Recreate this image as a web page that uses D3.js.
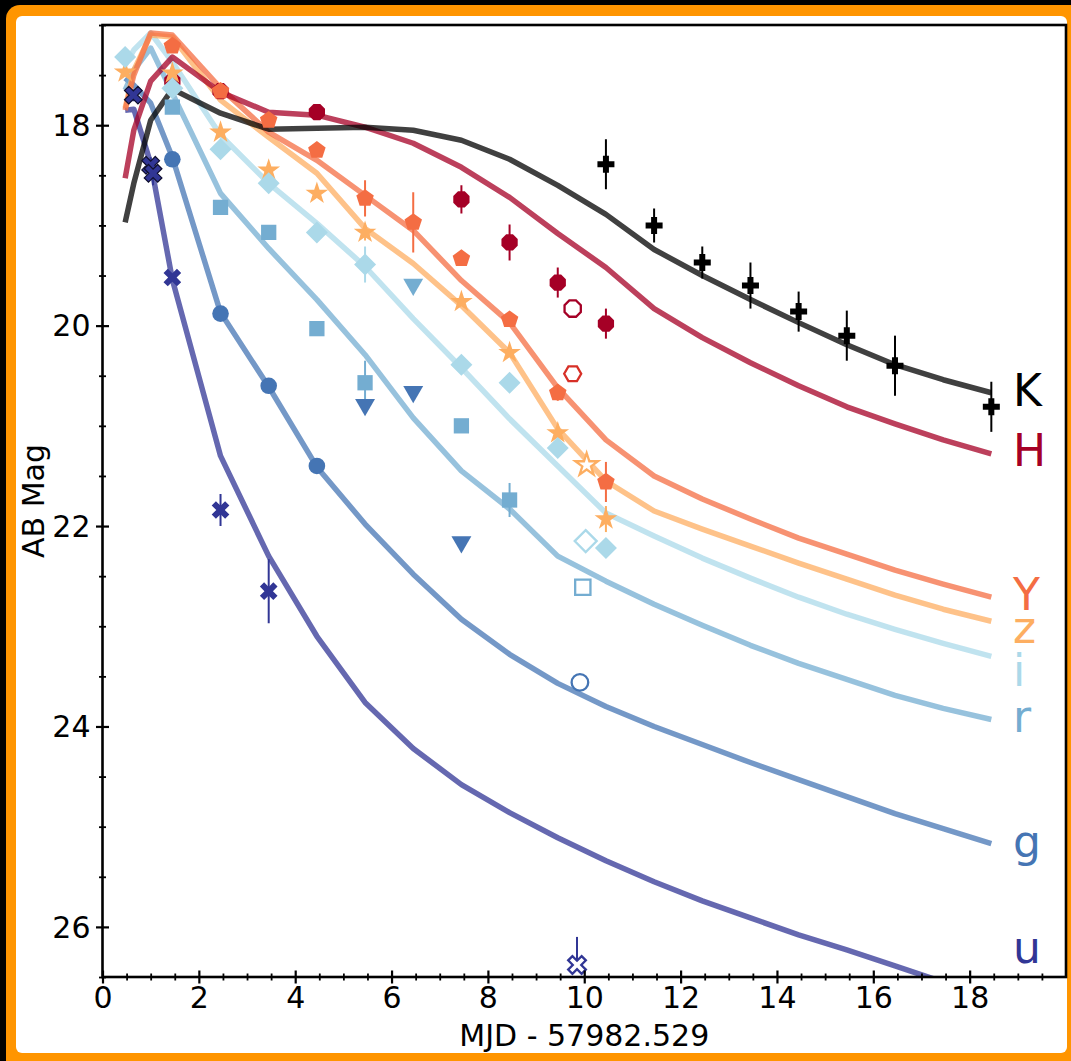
<!DOCTYPE html>
<html><head><meta charset="utf-8">
<script src="https://cdn.jsdelivr.net/npm/d3@7"></script>
<style>
html,body{margin:0;padding:0;background:#000;}
svg{display:block;font-family:"DejaVu Sans",sans-serif;}
</style></head><body>
<svg id="chart" width="1071" height="1061"></svg>
<script>
// ---------- model light curves (shared time grid) ----------
const modelTimes = [0.47, 0.65, 1.0, 1.45, 2.45, 3.45, 4.45, 5.45, 6.45, 7.45, 8.45, 9.45, 10.45, 11.45, 12.45, 13.45, 14.45, 15.45, 16.45, 17.45, 18.45];
const modelK = [18.97, 18.58, 17.95, 17.64, 17.88, 18.04, 18.03, 18.02, 18.05, 18.15, 18.34, 18.6, 18.89, 19.24, 19.5, 19.74, 19.97, 20.19, 20.39, 20.54, 20.67];
const modelH = [18.53, 18.05, 17.56, 17.32, 17.67, 17.87, 17.9, 18.02, 18.18, 18.42, 18.72, 19.08, 19.42, 19.83, 20.12, 20.37, 20.6, 20.81, 20.98, 21.14, 21.28];
const modelY = [17.85, 17.5, 17.08, 17.1, 17.63, 18.07, 18.35, 18.7, 19.05, 19.55, 19.97, 20.62, 21.14, 21.5, 21.73, 21.93, 22.12, 22.28, 22.44, 22.58, 22.71];
const modelZ = [17.83, 17.45, 17.1, 17.12, 17.75, 18.12, 18.48, 19.03, 19.38, 19.8, 20.27, 21.03, 21.55, 21.85, 22.03, 22.2, 22.37, 22.53, 22.69, 22.83, 22.95];
const modelI = [17.4, 17.25, 17.08, 17.37, 18.1, 18.58, 18.98, 19.41, 19.93, 20.42, 20.93, 21.4, 21.87, 22.1, 22.32, 22.52, 22.71, 22.88, 23.03, 23.17, 23.3];
const modelR = [17.65, 17.45, 17.23, 17.68, 18.68, 19.23, 19.74, 20.29, 20.92, 21.45, 21.83, 22.3, 22.55, 22.78, 22.99, 23.19, 23.37, 23.53, 23.69, 23.82, 23.93];
const modelG = [17.53, 17.6, 17.78, 18.32, 19.87, 20.61, 21.41, 21.98, 22.48, 22.93, 23.28, 23.57, 23.8, 24.0, 24.18, 24.36, 24.53, 24.7, 24.87, 25.02, 25.17];
const modelU = [17.85, 17.84, 18.38, 19.54, 21.3, 22.3, 23.1, 23.76, 24.22, 24.58, 24.86, 25.11, 25.34, 25.55, 25.74, 25.91, 26.08, 26.23, 26.39, 26.55, 26.7];

// ---------- observed photometry ----------
const kT = [10.45, 11.45, 12.45, 13.45, 14.45, 15.45, 16.45, 18.45];
const kM = [18.39, 19.0, 19.37, 19.6, 19.86, 20.1, 20.4, 20.81];
const kE = [0.25, 0.17, 0.16, 0.23, 0.2, 0.25, 0.3, 0.25];

const hT = [1.45, 2.45, 4.45, 7.45, 8.45, 9.45, 10.45];
const hM = [17.56, 17.66, 17.87, 18.74, 19.17, 19.57, 19.98];
const hE = [0, 0, 0.07, 0.14, 0.18, 0.15, 0.15];
const hOpenT = [9.76];
const hOpenM = [19.83];
const jOpenT = [9.76];
const jOpenM = [20.48];

const yT = [1.45, 2.45, 3.45, 4.45, 5.45, 6.45, 7.45, 8.45, 9.45, 10.45];
const yM = [17.21, 17.66, 17.95, 18.25, 18.73, 18.97, 19.33, 19.94, 20.67, 21.56];
const yE = [0, 0, 0, 0, 0.18, 0.3, 0, 0, 0.08, 0.2];

const zT = [0.47, 1.45, 2.45, 3.45, 4.45, 5.45, 7.45, 8.45, 9.45, 10.45];
const zM = [17.47, 17.48, 18.07, 18.45, 18.68, 19.07, 19.76, 20.27, 21.07, 21.93];
const zE = [0, 0, 0, 0, 0, 0.08, 0, 0, 0.06, 0.13];
const zOpenT = [10.05];
const zOpenM = [21.39];

const iT = [0.47, 1.45, 2.45, 3.45, 4.45, 5.45, 7.45, 8.45, 9.45, 10.45];
const iM = [17.32, 17.63, 18.24, 18.58, 19.07, 19.39, 20.39, 20.57, 21.22, 22.22];
const iE = [0, 0, 0, 0, 0, 0.18, 0, 0, 0, 0];
const iOpenT = [10.03];
const iOpenM = [22.15];

const rT = [1.45, 2.45, 3.45, 4.45, 5.45, 7.45, 8.45];
const rM = [17.82, 18.82, 19.07, 20.03, 20.57, 21.0, 21.74];
const rE = [0, 0, 0, 0, 0.22, 0.06, 0.17];
const rLimT = [6.45];
const rLimM = [19.59];
const rOpenT = [9.97];
const rOpenM = [22.61];

const gT = [1.45, 2.45, 3.45, 4.45];
const gM = [18.34, 19.88, 20.6, 21.4];
const gE = [0, 0, 0, 0.06];
const gLimT = [5.45, 6.45, 7.45];
const gLimM = [20.79, 20.66, 22.16];
const gOpenT = [9.91];
const gOpenM = [23.56];

const uT = [0.64, 1.0, 1.05, 1.45, 2.45, 3.45];
const uM = [17.7, 18.4, 18.48, 19.52, 21.84, 22.65];
const uE = [0.06, 0.08, 0.12, 0, 0.16, 0.32];
const uOpenT = [9.85];
const uOpenM = [26.38];
const uOpenE = [0.28];

// band names and annotation positions (data coords)
const bandNames = ["K", "H", "Y", "z", "i", "r", "g", "u"];
const labelT = [18.9, 18.9, 18.9, 18.9, 18.9, 18.9, 18.9, 18.9];
const labelM = [20.80, 21.40, 22.84, 23.17, 23.6, 24.06, 25.3, 26.36];

const xTicks = [0, 2, 4, 6, 8, 10, 12, 14, 16, 18];
const yTicks = [18, 20, 22, 24, 26];

// ---------- setup ----------
const W = 1071, H = 1061;
const svg = d3.select("#chart");
const x = d3.scaleLinear().domain([0, 20]).range([102.5, 1066]);
const y = d3.scaleLinear().domain([17, 26.5]).range([25, 977]);

const colors = {K:"#000000", H:"#a50026", J:"#d73027", Y:"#f46d43", z:"#fdae61", i:"#abd9e9", r:"#74add1", g:"#4575b4", u:"#313695"};

// frame
svg.append("rect").attr("x",0).attr("y",0).attr("width",W).attr("height",H).attr("fill","#000");
svg.append("rect").attr("x",6).attr("y",5).attr("width",1120).attr("height",1120).attr("rx",14).attr("fill","#ff9500");
svg.append("rect").attr("x",16).attr("y",16).attr("width",1051).attr("height",1037).attr("rx",6).attr("fill","#fff");

svg.append("defs").append("clipPath").attr("id","plotclip")
  .append("rect").attr("x",x(0)).attr("y",y(17)).attr("width",x(20)-x(0)).attr("height",y(26.5)-y(17));

const plot = svg.append("g").attr("clip-path","url(#plotclip)");

// ---------- model lines ----------
const models = [
  ["u", modelU], ["g", modelG], ["r", modelR], ["i", modelI],
  ["z", modelZ], ["Y", modelY], ["H", modelH], ["K", modelK]
];
const line = d3.line().x(d => x(d[0])).y(d => y(d[1]));
models.forEach(([b, vals]) => {
  plot.append("path")
    .datum(modelTimes.map((t, k) => [t, vals[k]]))
    .attr("d", line)
    .attr("fill","none")
    .attr("stroke", colors[b])
    .attr("stroke-opacity", 0.75)
    .attr("stroke-width", 5.5)
    .attr("stroke-linejoin","round");
});

// ---------- marker shapes ----------
function poly(n, r, rot) {
  const pts = d3.range(n).map(k => {
    const a = rot + k * 2 * Math.PI / n;
    return [r * Math.sin(a), -r * Math.cos(a)];
  });
  return "M" + pts.map(p => p[0].toFixed(2) + "," + p[1].toFixed(2)).join("L") + "Z";
}
function plusPath(a, b, rot) {
  const pts = [[-b,-a],[b,-a],[b,-b],[a,-b],[a,b],[b,b],[b,a],[-b,a],[-b,b],[-a,b],[-a,-b],[-b,-b]];
  const c = Math.cos(rot), s = Math.sin(rot);
  return "M" + pts.map(p => (p[0]*c - p[1]*s).toFixed(2) + "," + (p[0]*s + p[1]*c).toFixed(2)).join("L") + "Z";
}
const shapes = {
  plus: plusPath(8.5, 3, 0),
  xmark: plusPath(9.5, 3, Math.PI / 4),
  oct: poly(8, 8.8, Math.PI / 8),
  hex: poly(6, 8.5, Math.PI / 6),
  pent: poly(5, 9.2, 0),
  star: d3.symbol(d3.symbolStar, 160)(),
  diamond: poly(4, 11, 0),
  square: poly(4, 10.8, Math.PI / 4),
  circle: d3.symbol(d3.symbolCircle, Math.PI * 8.3 * 8.3)(),
  tri: poly(3, 11.5, Math.PI)
};

function drawErr(ts, ms, es, col) {
  plot.append("g").selectAll("line")
    .data(ts.map((t, k) => [t, ms[k], es[k]]).filter(d => d[2] > 0))
    .join("line")
    .attr("x1", d => x(d[0])).attr("x2", d => x(d[0]))
    .attr("y1", d => y(d[1] - d[2])).attr("y2", d => y(d[1] + d[2]))
    .attr("stroke", col).attr("stroke-width", 2);
}
function drawMarks(ts, ms, shape, col, opts = {}) {
  plot.append("g").selectAll("path")
    .data(ts.map((t, k) => [t, ms[k]]))
    .join("path")
    .attr("d", shapes[shape])
    .attr("transform", d => `translate(${x(d[0])},${y(d[1])})`)
    .attr("fill", opts.open ? "#fff" : col)
    .attr("stroke", opts.open ? col : (opts.edge ? opts.edge(d => d) : "none"))
    .attr("stroke-width", opts.open ? 2.3 : 0);
}

// K
drawErr(kT, kM, kE, colors.K);
drawMarks(kT, kM, "plus", colors.K);
// H
drawErr(hT, hM, hE, colors.H);
drawMarks(hT, hM, "oct", colors.H);
drawMarks(hOpenT, hOpenM, "oct", colors.H, {open:true});
drawMarks(jOpenT, jOpenM, "hex", colors.J, {open:true});
// Y
drawErr(yT, yM, yE, colors.Y);
drawMarks(yT, yM, "pent", colors.Y);
// z
drawErr(zT, zM, zE, colors.z);
drawMarks(zT, zM, "star", colors.z);
drawMarks(zOpenT, zOpenM, "star", colors.z, {open:true});
// i
drawErr(iT, iM, iE, colors.i);
drawMarks(iT, iM, "diamond", colors.i);
drawMarks(iOpenT, iOpenM, "diamond", colors.i, {open:true});
// r
drawErr(rT, rM, rE, colors.r);
drawMarks(rT, rM, "square", colors.r);
drawMarks(rLimT, rLimM, "tri", colors.r);
drawMarks(rOpenT, rOpenM, "square", colors.r, {open:true});
// g
drawErr(gT, gM, gE, colors.g);
drawMarks(gT, gM, "circle", colors.g);
drawMarks(gLimT, gLimM, "tri", colors.g);
drawMarks(gOpenT, gOpenM, "circle", colors.g, {open:true});
// u
drawErr(uT, uM, uE, colors.u);
plot.append("g").selectAll("path")
  .data(uT.map((t, k) => [t, uM[k]]))
  .join("path")
  .attr("d", shapes.xmark)
  .attr("transform", d => `translate(${x(d[0])},${y(d[1])})`)
  .attr("fill", colors.u)
  .attr("stroke", d => d[0] < 1.2 ? "#101030" : "none")
  .attr("stroke-width", 1.2);
plot.append("g").selectAll("line")
  .data(uOpenT.map((t, k) => [t, uOpenM[k], uOpenE[k]]))
  .join("line")
  .attr("x1", d => x(d[0])).attr("x2", d => x(d[0]))
  .attr("y1", d => y(d[1] - d[2])).attr("y2", d => y(d[1]))
  .attr("stroke", colors.u).attr("stroke-width", 2);
drawMarks(uOpenT, uOpenM, "xmark", colors.u, {open:true});

// ---------- axes ----------
const axisG = svg.append("g").attr("font-family", "DejaVu Sans");
const minorX = d3.range(0, 20.01, 0.5).filter(v => Math.abs(v % 2) > 1e-9);
const minorY = d3.range(17, 26.51, 0.5).filter(v => Math.abs(v % 2) > 1e-9);

const gxMinor = axisG.append("g").attr("transform", `translate(0,${y(26.5)})`)
  .call(d3.axisBottom(x).tickValues(minorX).tickFormat("").tickSizeOuter(0));
gxMinor.select(".domain").remove();
gxMinor.selectAll(".tick line").attr("y1", -3.5).attr("y2", 3.5).attr("stroke-width", 1.8);

const gyMinor = axisG.append("g").attr("transform", `translate(${x(0)},0)`)
  .call(d3.axisLeft(y).tickValues(minorY).tickFormat("").tickSizeOuter(0));
gyMinor.select(".domain").remove();
gyMinor.selectAll(".tick line").attr("x1", -3.5).attr("x2", 3.5).attr("stroke-width", 1.8);

const gx = axisG.append("g").attr("transform", `translate(0,${y(26.5)})`)
  .call(d3.axisBottom(x).tickValues(xTicks).tickFormat(d3.format("d")).tickSizeOuter(0));
gx.select(".domain").remove();
gx.selectAll(".tick line").attr("y1", -6.5).attr("y2", 6.5).attr("stroke-width", 2.2);
gx.selectAll(".tick text").attr("y", 10).attr("dy", "0.71em")
  .attr("font-size", 30).attr("font-family", "DejaVu Sans").attr("fill", "#000");

const gy = axisG.append("g").attr("transform", `translate(${x(0)},0)`)
  .call(d3.axisLeft(y).tickValues(yTicks).tickFormat(d3.format("d")).tickSizeOuter(0));
gy.select(".domain").remove();
gy.selectAll(".tick line").attr("x1", -6.5).attr("x2", 6.5).attr("stroke-width", 2.2);
gy.selectAll(".tick text").attr("x", -12).attr("dy", "0.34em")
  .attr("font-size", 30).attr("font-family", "DejaVu Sans").attr("fill", "#000");

// frame box
svg.append("rect")
  .attr("x", x(0)).attr("y", y(17))
  .attr("width", x(20) - x(0)).attr("height", y(26.5) - y(17))
  .attr("fill", "none").attr("stroke", "#000").attr("stroke-width", 2.6);

// axis titles
svg.append("text")
  .attr("x", (x(0) + x(20)) / 2).attr("y", 1046)
  .attr("text-anchor", "middle").attr("font-size", 30).attr("fill", "#000")
  .text("MJD - 57982.529");
svg.append("text")
  .attr("transform", `translate(44,${(y(17) + y(26.5)) / 2}) rotate(-90)`)
  .attr("text-anchor", "middle").attr("font-size", 30).attr("fill", "#000")
  .text("AB Mag");

// band labels
svg.append("g").selectAll("text")
  .data(bandNames.map((b, k) => [b, labelT[k], labelM[k]]))
  .join("text")
  .attr("x", d => x(d[1])).attr("y", d => y(d[2]))
  .attr("font-size", 44)
  .attr("fill", d => colors[d[0]])
  .text(d => d[0]);
</script>
</body></html>
